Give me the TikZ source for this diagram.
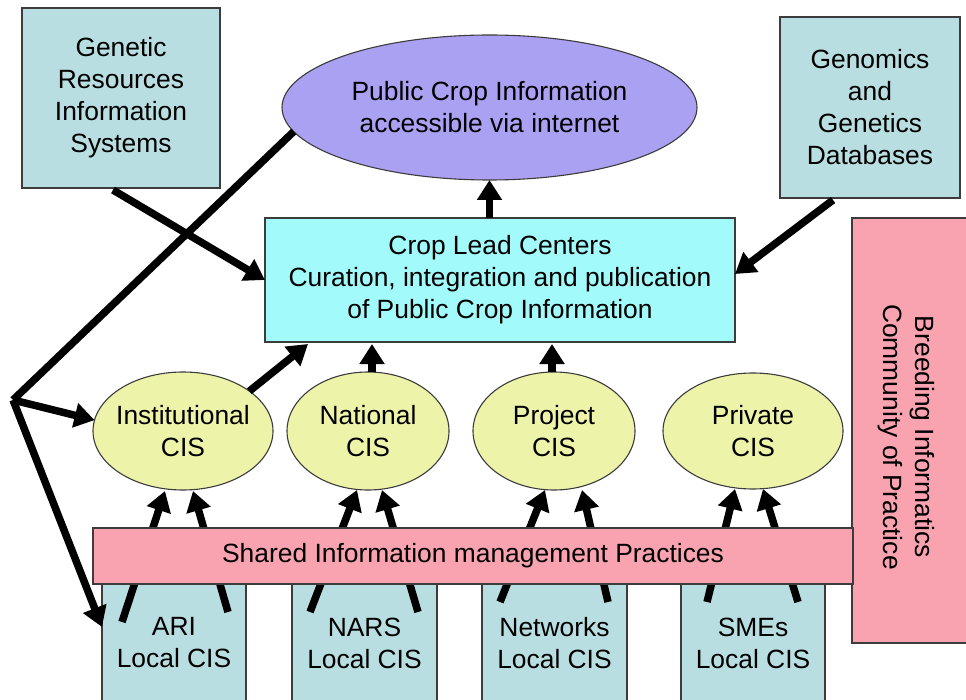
\documentclass[tikz,border=0pt]{standalone}
\usepackage{fontspec}
\setmainfont{Liberation Sans}
\usetikzlibrary{arrows.meta,calc,shapes.geometric}
\definecolor{boxblue}{RGB}{185,222,226}
\definecolor{cyanbox}{RGB}{163,250,250}
\definecolor{lavender}{RGB}{170,161,242}
\definecolor{paleyellow}{RGB}{238,243,170}
\definecolor{rosepink}{RGB}{249,163,176}
\definecolor{bordergray}{RGB}{60,60,60}
\begin{document}
\begin{tikzpicture}[x=1pt,y=-1pt,
  every node/.style={font=\fontsize{26.4}{32}\selectfont, align=center, inner sep=0pt, outer sep=0pt},
  bx/.style={draw=bordergray, line width=1.1pt, rectangle},
  ell/.style={draw=bordergray, line width=1.1pt, ellipse, inner xsep=-20pt, inner ysep=-10pt},
  arr/.style={line width=7.5pt, -{Triangle[length=20pt,width=24pt]}},
  ln/.style={line width=7.5pt}]
\clip (0,0) rectangle (966,700);
\fill[white] (0,0) rectangle (966,700);

% local boxes
\node[bx, fill=boxblue, minimum width=144pt, minimum height=154pt] (ari) at (174,643) {ARI\\Local CIS};
\node[bx, fill=boxblue, minimum width=145pt, minimum height=154pt] (nars) at (364.5,643) {NARS\\Local CIS};
\node[bx, fill=boxblue, minimum width=145pt, minimum height=154pt] (net) at (554.5,643) {Networks\\Local CIS};
\node[bx, fill=boxblue, minimum width=144pt, minimum height=154pt] (sme) at (753,643) {SMEs\\Local CIS};

% breeding informatics box
\node[bx, fill=rosepink, minimum width=140pt, minimum height=425pt] (breed) at (922,430.5) {};
\node[rotate=-90] (breedtxt) at (906,437) {Breeding Informatics\\Community of Practice};

% top boxes
\node[bx, fill=boxblue, minimum width=198pt, minimum height=180pt] (gris) at (121,98) {Genetic\\Resources\\Information\\Systems};
\node[bx, fill=boxblue, minimum width=180pt, minimum height=181pt] (gen) at (870,107.5) {Genomics\\and\\Genetics\\Databases};

% crop lead centers
\node[bx, fill=cyanbox, minimum width=470pt, minimum height=124pt] (clc) at (500,280) {Crop Lead Centers\\Curation, integration and publication\\of Public Crop Information};

% public info ellipse
\node[ell, fill=lavender, minimum width=415pt, minimum height=145pt] (pub) at (489.5,107.5) {Public Crop Information\\accessible via internet};

% CIS ellipses
\node[ell, fill=paleyellow, minimum width=180pt, minimum height=118pt] (inst) at (183,431) {Institutional\\CIS};
\node[ell, fill=paleyellow, minimum width=162pt, minimum height=118pt] (nat) at (368,431) {National\\CIS};
\node[ell, fill=paleyellow, minimum width=162pt, minimum height=118pt] (proj) at (554,431) {Project\\CIS};
\node[ell, fill=paleyellow, minimum width=180pt, minimum height=116pt] (priv) at (753,431) {Private\\CIS};

\coordinate (hub) at (13,400);

% arrows into crop lead centers
\draw[arr] ($(gris.south)+(-8,2)$) -- (clc.west);
\draw[arr] ($(gen.south)+(-37,2)$) -- ($(clc.east)+(0,-6)$);
\draw[arr] (clc.north -| pub.south) -- (pub.south);
\draw[arr] (inst.31) -- ($(clc.south west)+(43,2)$);
\draw[arr] ($(nat.north)+(4,0)$) -- ($(nat.north |- clc.south)+(4,2)$);
\draw[arr] ($(proj.north)+(-2,0)$) -- ($(proj.north |- clc.south)+(-2,2)$);

% feedback line from public information
\draw[ln] (pub.187.6) -- (hub);
\draw[arr] (hub) -- (inst.173);
\draw[arr] (hub) -- ($(ari.north west)+(0,61)$);

% local CIS to CIS ellipses
\draw[arr] ($(ari.north)+(-52,56)$) -- ($(inst.south)+(-18,1)$);
\draw[arr] ($(ari.north)+(54,46)$) -- ($(inst.south)+(10,1)$);
\draw[arr] ($(nars.north)+(-54.5,46)$) -- ($(nat.south)+(-11,0)$);
\draw[arr] ($(nars.north)+(53.5,46)$) -- ($(nat.south)+(14,0)$);
\draw[arr] ($(net.north)+(-54.5,36)$) -- ($(proj.south)+(-9,0)$);
\draw[arr] ($(net.north)+(53.5,36)$) -- ($(proj.south)+(28,0)$);
\draw[arr] ($(sme.north)+(-46,36)$) -- ($(priv.south)+(-18,0)$);
\draw[arr] ($(sme.north)+(45,36)$) -- ($(priv.south)+(10,0)$);

% shared practices bar (drawn over the arrows)
\node[bx, fill=rosepink, minimum width=760pt, minimum height=56pt] (shared) at (473,556) {Shared Information management Practices};
\end{tikzpicture}
\end{document}
